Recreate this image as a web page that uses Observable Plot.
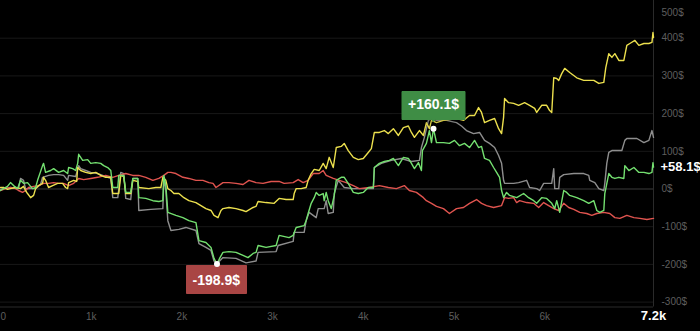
<!DOCTYPE html>
<html>
<head>
<meta charset="utf-8">
<script src="https://cdn.jsdelivr.net/npm/d3@7"></script>
<script src="https://cdn.jsdelivr.net/npm/@observablehq/plot@0.6"></script>
<style>
  html, body { margin: 0; padding: 0; background: #000; }
  #chart svg { display: block; }
  #chart g[aria-label="tip"] text { fill: #fff !important; stroke: none !important; }
</style>
</head>
<body>
<div id="chart"></div>
<script>
// Cumulative P&L ($) per strategy, sampled along the trade count.
const strategyC = [[0,-1],[110,4],[199,1],[221,28],[254,23],[276,1],[387,1],[442,12],[464,31],[530,36],[586,38],[641,38],[696,36],[740,23],[751,36],[829,33],[862,62],[884,54],[939,49],[995,44],[1072,41],[1105,38],[1182,31],[1216,28],[1238,-23],[1293,-23],[1326,44],[1359,41],[1381,-25],[1436,-28],[1459,28],[1514,28],[1525,-57],[1658,-54],[1790,-52],[1801,31],[1823,-4],[1845,-84],[1879,-110],[1967,-107],[2044,-102],[2155,-110],[2188,-145],[2265,-155],[2321,-163],[2354,-191],[2387,-198],[2453,-182],[2597,-184],[2707,-196],[2818,-191],[2840,-168],[3039,-166],[3061,-150],[3227,-139],[3238,-115],[3348,-115],[3370,-84],[3403,-62],[3481,-76],[3503,-52],[3569,-52],[3591,-31],[3613,-65],[3669,-62],[3680,-12],[3724,23],[3790,4],[3890,1],[4111,1],[4122,57],[4199,68],[4310,76],[4420,81],[4531,73],[4619,76],[4641,110],[4674,137],[4718,182],[4752,187],[4807,182],[4917,182],[5028,176],[5083,167],[5138,155],[5216,147],[5282,150],[5337,129],[5392,121],[5448,110],[5492,89],[5525,68],[5547,23],[5558,15],[5658,15],[5713,17],[5801,23],[5834,4],[5912,1],[5945,-4],[5989,15],[6078,15],[6100,54],[6111,1],[6155,1],[6166,31],[6210,38],[6321,41],[6431,41],[6486,36],[6497,23],[6553,17],[6597,1],[6652,-4],[6663,15],[6685,68],[6707,97],[6741,102],[6851,102],[6884,129],[6906,134],[7017,134],[7094,123],[7149,129],[7183,155],[7200,137]];

const strategyD = [[0,-4],[55,1],[110,4],[166,1],[199,-4],[243,-9],[276,-4],[309,4],[365,7],[420,9],[475,15],[530,15],[586,17],[641,15],[696,15],[751,9],[807,15],[862,28],[917,25],[995,28],[1072,31],[1160,36],[1238,31],[1304,36],[1381,41],[1459,36],[1525,36],[1602,31],[1680,23],[1746,28],[1801,36],[1845,44],[1879,44],[1934,41],[2011,31],[2077,28],[2155,23],[2232,23],[2298,17],[2343,15],[2376,4],[2453,17],[2519,17],[2597,15],[2674,12],[2740,23],[2818,17],[2895,15],[2984,20],[3072,20],[3127,15],[3227,17],[3282,25],[3337,17],[3392,23],[3448,41],[3514,41],[3558,49],[3591,36],[3669,28],[3735,23],[3812,17],[3890,9],[3956,1],[4066,4],[4177,9],[4276,4],[4365,1],[4453,9],[4508,-4],[4586,-9],[4663,-23],[4696,-31],[4752,-38],[4807,-46],[4884,-52],[4950,-65],[5028,-52],[5105,-49],[5171,-38],[5249,-28],[5304,-38],[5359,-44],[5437,-49],[5525,-44],[5558,-23],[5602,-25],[5658,-23],[5691,-36],[5724,-31],[5801,-36],[5879,-38],[5934,-49],[5989,-36],[6044,-44],[6100,-52],[6155,-57],[6210,-38],[6265,-49],[6321,-54],[6387,-62],[6464,-65],[6520,-70],[6575,-65],[6652,-62],[6718,-65],[6774,-76],[6829,-78],[6906,-70],[6984,-76],[7050,-78],[7127,-81],[7200,-78]];

const strategyA = [[0,4],[33,4],[77,-1],[110,1],[166,4],[221,1],[254,7],[276,-4],[298,-12],[332,-23],[365,-17],[387,1],[420,9],[464,15],[475,31],[497,23],[530,4],[575,9],[630,15],[685,15],[718,4],[740,1],[751,17],[807,23],[840,20],[851,57],[884,49],[939,44],[995,41],[1050,44],[1105,36],[1160,31],[1216,31],[1238,-12],[1304,-12],[1326,36],[1359,33],[1381,-12],[1436,-12],[1459,23],[1514,20],[1525,4],[1635,1],[1713,4],[1768,4],[1790,31],[1823,23],[1845,1],[1879,-4],[1912,-12],[1967,-12],[2022,-23],[2077,-31],[2155,-36],[2210,-44],[2265,-52],[2321,-57],[2354,-70],[2398,-76],[2431,-57],[2453,-52],[2519,-49],[2597,-52],[2674,-57],[2707,-60],[2785,-49],[2818,-46],[2840,-33],[2928,-36],[3017,-38],[3072,-25],[3149,-28],[3227,-28],[3238,-12],[3260,1],[3315,1],[3370,4],[3392,23],[3426,41],[3459,52],[3514,49],[3558,68],[3591,54],[3624,84],[3669,57],[3702,110],[3757,113],[3790,121],[3834,102],[3890,84],[3945,78],[4000,81],[4055,97],[4089,107],[4122,150],[4177,150],[4232,155],[4276,147],[4332,160],[4387,142],[4442,163],[4497,167],[4531,150],[4564,137],[4619,155],[4663,142],[4696,176],[4729,160],[4752,182],[4807,176],[4884,182],[4950,184],[5028,187],[5105,182],[5171,195],[5227,195],[5271,216],[5304,203],[5337,176],[5392,182],[5448,187],[5492,160],[5525,147],[5547,190],[5558,240],[5602,229],[5658,227],[5713,222],[5779,229],[5834,222],[5890,214],[5912,203],[5967,222],[6022,222],[6055,208],[6078,203],[6100,295],[6133,293],[6155,288],[6188,306],[6221,320],[6276,309],[6354,295],[6431,288],[6497,288],[6542,288],[6597,280],[6652,283],[6674,322],[6707,359],[6741,349],[6774,359],[6818,341],[6873,341],[6906,381],[6939,386],[6995,394],[7039,381],[7094,386],[7149,386],[7183,389],[7194,415],[7200,402]];

const strategyB = [[0,-4],[33,1],[77,7],[110,17],[144,9],[188,1],[221,23],[254,15],[298,17],[332,7],[354,1],[387,4],[409,23],[464,62],[475,68],[497,44],[553,49],[586,54],[641,44],[696,49],[740,41],[751,57],[796,54],[829,49],[851,68],[862,92],[906,76],[961,78],[995,68],[1050,70],[1105,68],[1138,62],[1182,57],[1216,49],[1238,4],[1293,4],[1304,36],[1359,36],[1381,-9],[1436,-9],[1459,28],[1514,28],[1525,-23],[1602,-25],[1680,-31],[1746,-33],[1790,-31],[1801,36],[1823,9],[1845,-62],[1934,-70],[2011,-76],[2077,-84],[2155,-89],[2188,-137],[2265,-142],[2321,-155],[2354,-184],[2387,-198.9],[2420,-182],[2453,-168],[2519,-166],[2597,-168],[2674,-176],[2729,-182],[2785,-171],[2818,-168],[2840,-150],[2928,-155],[3039,-150],[3072,-123],[3182,-129],[3227,-123],[3260,-102],[3348,-97],[3370,-84],[3392,-65],[3426,-38],[3459,-23],[3481,-9],[3514,-17],[3558,-12],[3569,-31],[3591,-9],[3613,-31],[3647,-52],[3680,-17],[3702,23],[3757,31],[3790,31],[3834,15],[3890,-9],[3945,-12],[4000,-9],[4055,4],[4111,4],[4122,57],[4177,68],[4232,73],[4287,76],[4332,81],[4387,62],[4442,84],[4497,81],[4531,68],[4564,54],[4608,70],[4641,49],[4652,102],[4696,121],[4729,155],[4752,123],[4774,160.1],[4807,123],[4884,123],[4950,121],[5006,129],[5061,115],[5116,121],[5171,110],[5227,129],[5271,110],[5304,113],[5337,81],[5392,76],[5437,57],[5470,44],[5503,31],[5525,-4],[5547,-23],[5580,-9],[5613,-17],[5691,-23],[5768,-12],[5823,-23],[5879,-31],[5912,-38],[5967,-23],[6022,-25],[6078,-38],[6111,-52],[6133,-31],[6166,-62],[6210,-4],[6243,-9],[6276,-17],[6354,-23],[6431,-31],[6486,-38],[6542,-31],[6575,-57],[6608,-62],[6652,-57],[6663,-12],[6707,41],[6741,31],[6774,28],[6818,31],[6873,28],[6884,62],[6928,49],[6984,57],[7039,44],[7094,44],[7149,41],[7183,44],[7194,70],[7200,58.1]];

// drawing order: last one on top
const seriesNames = ["C", "D", "A", "B"];
const seriesColors = ["#8e8e8e", "#e0544f", "#ece04e", "#74e070"];
const yTicks = [-300, -200, -100, 0, 100, 200, 300, 400];
const yTopTick = 500;
const xTicks = [1000, 2000, 3000, 4000, 5000, 6000];
const xStart = 0;
const xEnd = 7200;

const seriesData = {A: strategyA, B: strategyB, C: strategyC, D: strategyD};
const rows = seriesNames.flatMap(name =>
  seriesData[name].map(([x, y]) => ({series: name, x, y}))
);

const focus = strategyB;
const focusMax = focus.reduce((a, b) => (b[1] > a[1] ? b : a));
const focusMin = focus.reduce((a, b) => (b[1] < a[1] ? b : a));
const focusLast = focus[focus.length - 1];
const money = v => (v > 0 ? "+" : "") + v.toFixed(1) + "$";
const kFormat = d => (d === 0 ? "0" : d / 1000 + "k");

const muted = "#5e5e5e";

const chart = Plot.plot({
  width: 700,
  height: 331,
  marginTop: 0,
  marginRight: 47,
  marginBottom: 24.5,
  marginLeft: 0,
  style: {
    background: "#000",
    color: muted,
    fontFamily: "'Liberation Sans', Arial, sans-serif",
    fontSize: "10px",
    overflow: "visible"
  },
  x: {domain: [xStart, xEnd], axis: null},
  y: {domain: [-313, 500], axis: null},
  color: {domain: seriesNames, range: seriesColors},
  marks: [
    // price grid
    Plot.ruleY(yTicks.filter(d => d !== 0), {stroke: "#181818", strokeWidth: 1}),
    Plot.ruleY([0], {stroke: "#3c3c3c", strokeWidth: 1}),
    // pane borders
    Plot.ruleY([-313], {stroke: "#2a2a2a"}),
    Plot.ruleX([xEnd], {stroke: "#2a2a2a"}),
    // equity curves
    Plot.line(rows, {x: "x", y: "y", z: "series", stroke: "series", strokeWidth: 1.4, strokeLinejoin: "round"}),
    // right price scale
    Plot.axisY(yTicks, {anchor: "right", label: null, tickSize: 0, tickPadding: 8, tickFormat: d => d + "$", fill: muted}),
    Plot.text([yTopTick], {y: d => d, frameAnchor: "right", dx: 8, dy: 12, textAnchor: "start", text: d => d + "$", fill: muted}),
    // bottom count scale
    Plot.text([xStart], {x: d => d, frameAnchor: "bottom", dy: 12.5, textAnchor: "start", text: kFormat, fill: muted}),
    Plot.text(xTicks, {x: d => d, frameAnchor: "bottom", dy: 12.5, text: kFormat, fill: muted}),
    Plot.text([xEnd], {x: d => d, frameAnchor: "bottom", dy: 12.5, text: d => (d / 1000).toFixed(1) + "k", fill: "#fff", fontWeight: "bold", fontSize: 13}),
    // extreme callouts
    Plot.tip([focusMax], {
      x: d => d[0], y: d => d[1], title: d => money(d[1]),
      anchor: "bottom", fill: "#3f8d45", stroke: "#3f8d45",
      fontSize: 14, fontWeight: "bold", textPadding: 6, pointerSize: 4, dy: -7
    }),
    Plot.tip([focusMin], {
      x: d => d[0], y: d => d[1], title: d => money(d[1]),
      anchor: "top", fill: "#a94544", stroke: "#a94544",
      fontSize: 14, fontWeight: "bold", textPadding: 6, pointerSize: 4
    }),
    Plot.dot([focusMax, focusMin], {x: d => d[0], y: d => d[1], r: 3, fill: "#fff"}),
    // last value of the focused curve
    Plot.text([focusLast], {x: d => d[0], y: d => d[1], text: d => money(d[1]), dx: 7, textAnchor: "start", fill: "#fff", fontWeight: "bold", fontSize: 13})
  ]
});

document.getElementById("chart").appendChild(chart);
</script>
</body>
</html>
